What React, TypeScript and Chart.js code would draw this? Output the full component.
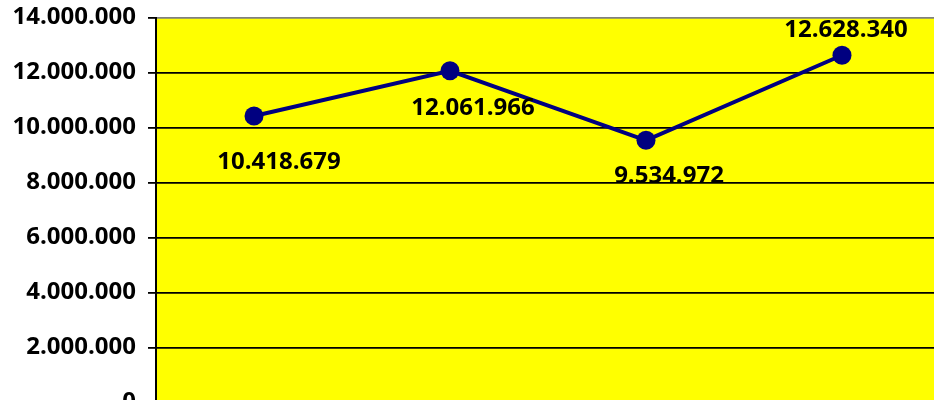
import React, { useEffect, useRef } from "react";
import { Chart, registerables } from "chart.js";

Chart.register(...registerables);

const categories = ["1", "2", "3", "4"];
const values = [10418679, 12061966, 9534972, 12628340];
const yTicks = [0, 2000000, 4000000, 6000000, 8000000, 10000000, 12000000, 14000000];

// label offsets (style), relative to point centre
const labelOffsets = [
  { dx: 25, dy: 46 },
  { dx: 23, dy: 37 },
  { dx: 23, dy: 36 },
  { dx: 4, dy: -25 },
];

const FONT = "'Open Sans', 'Noto Sans', sans-serif";

function fmt(v: number): string {
  return String(Math.round(v)).replace(/\B(?=(\d{3})+(?!\d))/g, ".");
}

const bgPlugin = {
  id: "plotBg",
  beforeDraw(chart: any) {
    const { ctx, chartArea } = chart;
    if (!chartArea) return;
    ctx.save();
    ctx.fillStyle = "#FFFF00";
    ctx.fillRect(chartArea.left, chartArea.top, chartArea.right - chartArea.left, chartArea.bottom - chartArea.top);
    ctx.restore();
  },
};

const labelPlugin = {
  id: "valueLabels",
  afterDatasetsDraw(chart: any) {
    const { ctx } = chart;
    const meta = chart.getDatasetMeta(0);
    ctx.save();
    ctx.font = `bold 24px ${FONT}`;
    ctx.fillStyle = "#000000";
    ctx.textAlign = "center";
    ctx.textBaseline = "middle";
    meta.data.forEach((pt: any, i: number) => {
      const off = labelOffsets[i] || { dx: 0, dy: 0 };
      ctx.fillText(fmt(values[i]), pt.x + off.dx, pt.y + off.dy);
    });
    ctx.restore();
  },
};

export default function App() {
  const ref = useRef<HTMLCanvasElement | null>(null);
  useEffect(() => {
    if (!ref.current) return;
    const chart = new Chart(ref.current, {
      type: "line",
      data: {
        labels: categories,
        datasets: [
          {
            data: values,
            borderColor: "#000080",
            backgroundColor: "#000080",
            borderWidth: 4,
            pointRadius: 9.5,
            pointHoverRadius: 9.5,
            pointBackgroundColor: "#000080",
            pointBorderColor: "#000080",
            pointBorderWidth: 0,
            tension: 0,
            fill: false,
          },
        ],
      },
      options: {
        animation: false,
        responsive: false,
        devicePixelRatio: 1,
        layout: { padding: { top: 17.5, bottom: 17.5, left: 0, right: 10 } },
        plugins: { legend: { display: false }, tooltip: { enabled: false } },
        scales: {
          x: {
            type: "category",
            offset: true,
            display: false,
          },
          y: {
            min: 0,
            max: 14000000,
            afterFit: (scale: any) => {
              scale.width = 156;
              scale.paddingTop = 0;
              scale.paddingBottom = 0;
            },
            afterBuildTicks: (scale: any) => {
              scale.ticks = yTicks.map((v) => ({ value: v }));
            },
            ticks: {
              padding: 12,
              color: "#000000",
              font: { family: FONT, size: 24, weight: "bold" },
              callback: (v: any) => fmt(Number(v)),
            },
            grid: {
              color: (c: any) => (c.tick && c.tick.value === 14000000 ? "#808080" : "#000000"),
              tickColor: "#000000",
              lineWidth: 1.8,
              tickLength: 8,
            },
            border: { display: true, color: "#000000", width: 2 },
          },
        },
      },
      plugins: [bgPlugin, labelPlugin],
    } as any);
    return () => chart.destroy();
  }, []);
  return (
    <div style={{ position: "fixed", left: 0, top: 0, width: 934, height: 400, overflow: "hidden", background: "#fff" }}>
      <canvas ref={ref} width={950} height={420} style={{ display: "block" }} />
    </div>
  );
}
